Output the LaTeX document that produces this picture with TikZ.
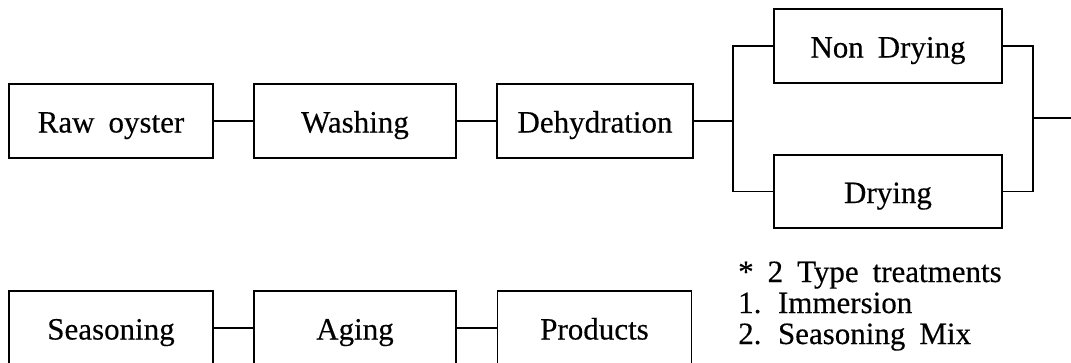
\documentclass[tikz,border=0pt]{standalone}
\usepackage{fontspec}
\setmainfont{Liberation Serif}[WordSpace=1.8,FakeBold=0.3]
\begin{document}
\begin{tikzpicture}[x=1pt,y=-1pt,
  stepbox/.style={draw,line width=1.8pt,minimum height=74pt,inner sep=0pt,
    text height=30pt,text depth=7pt,
    font=\fontsize{31}{31}\selectfont},
  conn/.style={line width=1.8pt},
  note/.style={anchor=base west,inner sep=0pt,font=\fontsize{31}{31}\selectfont}]
\useasboundingbox (0,0) rectangle (1071,362);
\clip (0,0) rectangle (1071,362);
\node[stepbox,minimum width=204pt] (raw) at (111,121) {Raw oyster};
\node[stepbox,minimum width=202pt] (wash) at (355,121) {Washing};
\node[stepbox,minimum width=196pt] (dehyd) at (595,121) {Dehydration};
\node[stepbox,minimum width=228pt] (nondry) at (888,46) {Non Drying};
\node[stepbox,minimum width=228pt,minimum height=73pt] (dry) at (888,191.5) {Drying};
\node[stepbox,minimum width=204pt] (seas) at (111,328) {Seasoning};
\node[stepbox,minimum width=202pt] (aging) at (355,328) {Aging};
\node[stepbox,minimum width=194pt] (prod) at (594.5,328) {Products};
\coordinate (jl) at (733,121);
\coordinate (jr) at (1033,118);
\coordinate (out) at (1071,118);
\draw[conn] (raw.east) -- (wash.west);
\draw[conn] (wash.east) -- (dehyd.west);
\draw[conn] (dehyd.east) -- (jl);
\draw[conn] (nondry.west) -| (jl) |- (dry.west);
\draw[conn] (nondry.east) -| (jr) |- (dry.east);
\draw[conn] (jr) -- (out);
\draw[conn] (seas.east) -- (aging.west);
\draw[conn] (aging.east) -- (prod.west);
\node[note] (n1) at (738,282) {* 2 Type treatments};
\node[note] (n2) at (738,313) {1. Immersion};
\node[note] (n3) at (738,344) {2. Seasoning Mix};
\end{tikzpicture}
\end{document}
